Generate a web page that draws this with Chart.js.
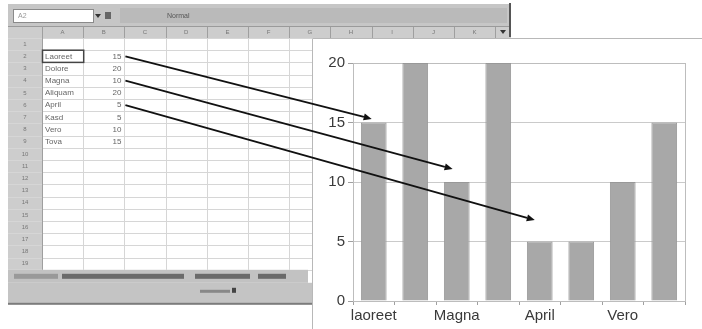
<!DOCTYPE html>
<html>
<head>
<meta charset="utf-8">
<script src="https://cdn.jsdelivr.net/npm/chart.js@4.4.1/dist/chart.umd.min.js"></script>
<style>
html,body{margin:0;padding:0;background:#fff;}
#wrap{width:702px;height:329px;}
</style>
</head>
<body>
<div id="wrap"><canvas id="c" width="702" height="329"></canvas></div>
<script>
// ---- data ----
const categories = ['laoreet', 'Dolore', 'Magna', 'Aliquam', 'April', 'Kasd', 'Vero', 'Tova'];
const values = [15, 20, 10, 20, 5, 5, 10, 15];
const yTicks = [0, 5, 10, 15, 20];
// spreadsheet row of each arrow start, and the point (category index, value) it points to
const arrowRows = [2, 4, 6];
const arrowTargets = [[-0.05, 15.3], [1.9, 11.1], [3.88, 6.8]];
const columnLetters = ['A','B','C','D','E','F','G','H','I','J','K','L'];

// spreadsheet geometry (decoration)
const SS = {x0: 8, x1: 511, rowH: 12.2, top: 38, rowHdrR: 42, colW: 41.2, rows: 19};

function drawSheet(ctx) {
  ctx.save();
  ctx.fillStyle = '#fff';
  ctx.fillRect(0, 0, 702, 329);
  // toolbar
  ctx.fillStyle = '#c6c6c6';
  ctx.fillRect(SS.x0, 4, SS.x1 - SS.x0, 22);
  ctx.fillStyle = '#bababa';
  ctx.fillRect(120, 8, SS.x1 - 124, 15);
  ctx.fillStyle = '#fff';
  ctx.fillRect(13, 9, 80, 13);
  ctx.strokeStyle = '#8a8a8a'; ctx.lineWidth = 1;
  ctx.strokeRect(13.5, 9.5, 80, 13);
  ctx.fillStyle = '#999';
  ctx.font = '7px "Liberation Sans"';
  ctx.textBaseline = 'middle';
  ctx.fillText('A2', 18, 16);
  ctx.fillStyle = '#333';
  ctx.beginPath(); ctx.moveTo(95, 14); ctx.lineTo(101, 14); ctx.lineTo(98, 18); ctx.fill();
  ctx.fillStyle = '#666';
  ctx.fillRect(105, 12, 6, 7);
  ctx.fillStyle = '#555';
  ctx.fillText('Normal', 167, 16);
  // column header row
  ctx.fillStyle = '#cdcdcd';
  ctx.fillRect(SS.x0, 26, SS.x1 - SS.x0, 12);
  ctx.fillRect(SS.x0, SS.top, SS.rowHdrR - SS.x0, SS.rows * SS.rowH);
  ctx.strokeStyle = '#9a9a9a';
  ctx.beginPath(); ctx.moveTo(SS.x0, 26.5); ctx.lineTo(SS.x1, 26.5); ctx.stroke();
  // cell grid
  const bottom = SS.top + SS.rows * SS.rowH;
  ctx.strokeStyle = '#d6d6d6';
  for (let r = 0; r <= SS.rows; r++) {
    const y = Math.round(SS.top + r * SS.rowH) + 0.5;
    ctx.beginPath(); ctx.moveTo(SS.x0, y); ctx.lineTo(SS.x1, y); ctx.stroke();
  }
  ctx.fillStyle = '#777';
  ctx.font = '6px "Liberation Sans"';
  ctx.textAlign = 'center';
  for (let c = 0; c < columnLetters.length; c++) {
    const x = SS.rowHdrR + c * SS.colW;
    if (x > SS.x1 - 4) break;
    ctx.strokeStyle = '#d6d6d6';
    ctx.beginPath(); ctx.moveTo(Math.round(x) + 0.5, 38); ctx.lineTo(Math.round(x) + 0.5, bottom); ctx.stroke();
    ctx.strokeStyle = '#9f9f9f';
    ctx.beginPath(); ctx.moveTo(Math.round(x) + 0.5, 27); ctx.lineTo(Math.round(x) + 0.5, 38); ctx.stroke();
    if (x + SS.colW / 2 < SS.x1 - 14) ctx.fillText(columnLetters[c], x + SS.colW / 2, 32);
  }
  ctx.strokeStyle = '#9f9f9f';
  ctx.beginPath(); ctx.moveTo(SS.rowHdrR + 0.5, 26); ctx.lineTo(SS.rowHdrR + 0.5, bottom); ctx.stroke();
  for (let r = 0; r < SS.rows; r++) {
    ctx.fillText(String(r + 1), 25, SS.top + (r + 0.5) * SS.rowH);
  }
  // cell contents from the data arrays
  ctx.font = '8px "Liberation Sans"';
  ctx.fillStyle = '#666';
  for (let i = 0; i < categories.length; i++) {
    const y = SS.top + (i + 1.5) * SS.rowH;
    ctx.textAlign = 'left';
    const lab = categories[i].charAt(0).toUpperCase() + categories[i].slice(1);
    ctx.fillText(lab, SS.rowHdrR + 3, y);
    ctx.textAlign = 'right';
    ctx.fillText(String(values[i]), SS.rowHdrR + 2 * SS.colW - 3, y);
  }
  // active cell
  ctx.strokeStyle = '#444'; ctx.lineWidth = 1.5;
  ctx.strokeRect(SS.rowHdrR + 0.5, SS.top + SS.rowH, SS.colW, SS.rowH);
  ctx.lineWidth = 1;
  // sheet tabs
  ctx.fillStyle = '#c2c2c2';
  ctx.fillRect(SS.x0, bottom, 300, 13);
  ctx.fillStyle = '#6a6a6a';
  ctx.fillRect(62, bottom + 4, 122, 5);
  ctx.fillRect(195, bottom + 4, 55, 5);
  ctx.fillRect(258, bottom + 4, 28, 5);
  ctx.fillStyle = '#999';
  ctx.fillRect(14, bottom + 4, 44, 5);
  // status bar
  ctx.fillStyle = '#c4c4c4';
  ctx.fillRect(SS.x0, bottom + 13, 304, 21);
  ctx.fillStyle = '#7c7c7c';
  ctx.fillRect(SS.x0, bottom + 33, 304, 2);
  ctx.fillStyle = '#888';
  ctx.fillRect(200, bottom + 20, 30, 3);
  ctx.fillStyle = '#444';
  ctx.fillRect(232, bottom + 18, 4, 5);
  // right edge of the sheet window
  ctx.fillStyle = '#555';
  ctx.fillRect(SS.x1 - 2, 3, 2, 34);
  ctx.fillStyle = '#333';
  ctx.beginPath(); ctx.moveTo(500, 30); ctx.lineTo(506, 30); ctx.lineTo(503, 34); ctx.fill();
  // chart panel
  ctx.fillStyle = '#fff';
  ctx.fillRect(312, 38, 390, 291);
  ctx.strokeStyle = '#b8b8b8';
  ctx.beginPath(); ctx.moveTo(312.5, 329); ctx.lineTo(312.5, 38.5); ctx.lineTo(702, 38.5); ctx.stroke();
  ctx.restore();
}

const decoPlugin = {
  id: 'deco',
  beforeDraw(chart) { drawSheet(chart.ctx); },
  beforeDatasetsDraw(chart) {
    const a = chart.chartArea, ctx = chart.ctx;
    ctx.save();
    ctx.strokeStyle = '#bdbdbd'; ctx.lineWidth = 1;
    ctx.strokeRect(Math.round(a.left) + 0.5, Math.round(a.top) + 0.5, Math.round(a.right - a.left), Math.round(a.bottom - a.top));
    ctx.restore();
  },
  afterDraw(chart) {
    const ctx = chart.ctx, xs = chart.scales.x, ys = chart.scales.y;
    ctx.save();
    ctx.strokeStyle = '#111'; ctx.fillStyle = '#111'; ctx.lineWidth = 1.8;
    arrowRows.forEach((row, k) => {
      const x0 = SS.rowHdrR + 2 * SS.colW + 1;
      const y0 = SS.top + (row - 0.5) * SS.rowH;
      const x1 = xs.getPixelForValue(arrowTargets[k][0]);
      const y1 = ys.getPixelForValue(arrowTargets[k][1]);
      const ang = Math.atan2(y1 - y0, x1 - x0);
      const hl = 8, hw = 3.5;
      const bx = x1 - hl * Math.cos(ang), by = y1 - hl * Math.sin(ang);
      ctx.beginPath(); ctx.moveTo(x0, y0); ctx.lineTo(bx, by); ctx.stroke();
      ctx.beginPath();
      ctx.moveTo(x1, y1);
      ctx.lineTo(bx + hw * Math.sin(ang), by - hw * Math.cos(ang));
      ctx.lineTo(bx - hw * Math.sin(ang), by + hw * Math.cos(ang));
      ctx.closePath(); ctx.fill();
    });
    ctx.restore();
  }
};

new Chart(document.getElementById('c'), {
  type: 'bar',
  data: {
    labels: categories,
    datasets: [{
      data: values,
      backgroundColor: '#a8a8a8',
      borderColor: '#989898',
      borderWidth: 1,
      barPercentage: 0.62,
      categoryPercentage: 1
    }]
  },
  options: {
    responsive: false,
    animation: false,
    layout: {padding: {left: 312, right: 17, top: 63, bottom: 6}},
    plugins: {legend: {display: false}, tooltip: {enabled: false}},
    scales: {
      x: {
        afterFit(s) { s.height = 22; },
        grid: {display: true, drawOnChartArea: false, drawTicks: true, tickLength: 4, color: '#a0a0a0', offset: true},
        border: {display: true, color: '#bdbdbd'},
        ticks: {
          autoSkip: false, maxRotation: 0, padding: 2,
          color: '#3a3a3a', font: {family: '"Liberation Sans", Arial', size: 15},
          callback(v, i) { return i % 2 === 0 ? categories[i] : ''; }
        }
      },
      y: {
        min: 0, max: 20,
        afterFit(s) { s.width = 41; },
        afterBuildTicks(s) { s.ticks = yTicks.map(v => ({value: v})); },
        grid: {color: '#cacaca', tickLength: 5, tickColor: '#a0a0a0'},
        border: {display: true, color: '#bdbdbd'},
        ticks: {padding: 3, color: '#3a3a3a', font: {family: '"Liberation Sans", Arial', size: 15}}
      }
    }
  },
  plugins: [decoPlugin]
});
</script>
</body>
</html>
